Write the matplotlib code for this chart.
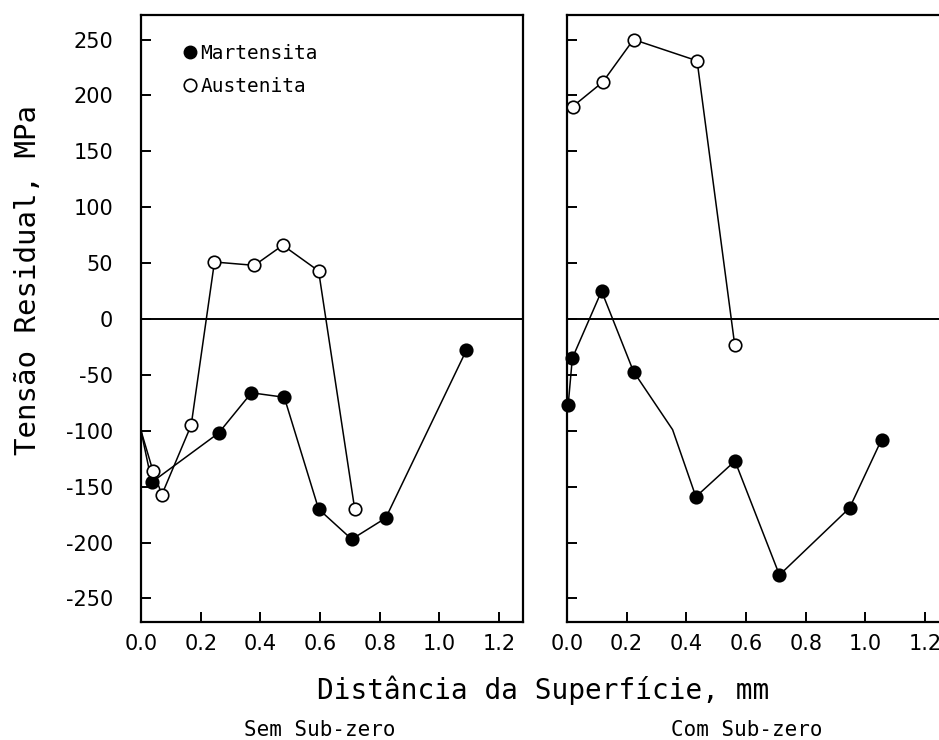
import matplotlib
matplotlib.use("Agg")
import matplotlib.pyplot as plt
from matplotlib.lines import Line2D


# -----------------------------
# Residual stress profiles (MPa) vs depth (mm)
# -----------------------------
# Sem sub-zero
SEM_MART_X = [0.0, 0.036, 0.26, 0.37, 0.48, 0.595, 0.706, 0.82, 1.09]
SEM_MART_Y = [-100, -146, -102, -66, -70, -170, -197, -178, -28]
SEM_AUST_X = [0.0, 0.04, 0.07, 0.168, 0.246, 0.38, 0.475, 0.595, 0.716]
SEM_AUST_Y = [-100, -136, -157, -95, 51, 48, 66, 43, -170]

# Com sub-zero
COM_MART_X = [0.004, 0.018, 0.116, 0.223, 0.354, 0.432, 0.563, 0.712, 0.947, 1.054]
COM_MART_Y = [-77, -35, 25, -47, -99, -159, -127, -229, -169, -108]
COM_AUST_X = [0.019, 0.12, 0.223, 0.436, 0.562]
COM_AUST_Y = [190, 212, 250, 231, -23]

# which points carry a symbol (the others are plain line vertices)
SEM_MART_MARKED = [1, 2, 3, 4, 5, 6, 7, 8]
SEM_AUST_MARKED = [1, 2, 3, 4, 5, 6, 7, 8]
COM_MART_MARKED = [0, 1, 2, 3, 5, 6, 7, 8, 9]
COM_AUST_MARKED = [0, 1, 2, 3, 4]

X_TICKS = [0.0, 0.2, 0.4, 0.6, 0.8, 1.0, 1.2]
X_TICK_LABELS = ["0.0", "0.2", "0.4", "0.6", "0.8", "1.0", "1.2"]
Y_TICKS = [250, 200, 150, 100, 50, 0, -50, -100, -150, -200, -250]

LEGEND_LABELS = ["Martensita", "Austenita"]
PANEL_TITLES = ["Sem Sub-zero", "Com Sub-zero"]

MONO = "DejaVu Sans Mono"
XLIM = (0.0, 1.28)
YLIM = (-271, 272)


def style_axes(ax, show_labels):
    ax.set_xlim(*XLIM)
    ax.set_ylim(*YLIM)
    ax.set_xticks(X_TICKS)
    ax.set_yticks(Y_TICKS)
    ax.axhline(0, color="black", lw=1.4, zorder=1)
    for sp in ax.spines.values():
        sp.set_linewidth(1.6)
    ax.tick_params(axis="both", direction="in", length=7, width=1.4)
    ax.tick_params(axis="x", pad=9)
    ax.tick_params(axis="y", pad=20)
    ax.set_xticklabels(X_TICK_LABELS, fontsize=15)
    if show_labels:
        ax.set_yticklabels([str(v) for v in Y_TICKS], fontsize=15)
    else:
        ax.set_yticklabels([])


def draw_series(ax, x, y, marked, filled):
    face = "black" if filled else "white"
    ax.plot(x, y, color="black", lw=1.1, marker="o", markersize=9,
            markerfacecolor=face, markeredgecolor="black", markeredgewidth=1.2,
            markevery=marked, zorder=3, clip_on=False)


def main():
    fig = plt.figure(figsize=(9.39, 7.40), dpi=100)

    ax1 = fig.add_axes([0.1502, 0.1595, 0.4068, 0.8203])
    ax2 = fig.add_axes([0.6038, 0.1595, 0.4068, 0.8203])

    style_axes(ax1, True)
    style_axes(ax2, False)

    draw_series(ax1, SEM_MART_X, SEM_MART_Y, SEM_MART_MARKED, True)
    draw_series(ax1, SEM_AUST_X, SEM_AUST_Y, SEM_AUST_MARKED, False)
    draw_series(ax2, COM_MART_X, COM_MART_Y, COM_MART_MARKED, True)
    draw_series(ax2, COM_AUST_X, COM_AUST_Y, COM_AUST_MARKED, False)

    handles = [
        Line2D([], [], ls="none", marker="o", markersize=9,
               markerfacecolor="black", markeredgecolor="black"),
        Line2D([], [], ls="none", marker="o", markersize=9,
               markerfacecolor="white", markeredgecolor="black",
               markeredgewidth=1.2),
    ]
    ax1.legend(handles, LEGEND_LABELS, loc="upper left",
               bbox_to_anchor=(0.107, 0.952), frameon=False,
               handlelength=0.8, handletextpad=0.15, borderpad=0,
               borderaxespad=0, labelspacing=0.7,
               prop={"family": MONO, "size": 14})

    fig.text(0.030, (740 - 280) / 740, "Tensão Residual, MPa", rotation=90,
             ha="center", va="center", fontsize=21, family=MONO)
    fig.text(543 / 939, (740 - 690) / 740, "Distância da Superfície, mm",
             ha="center", va="center", fontsize=20, family=MONO)
    fig.text(320 / 939, (740 - 730) / 740, PANEL_TITLES[0],
             ha="center", va="center", fontsize=15, family=MONO)
    fig.text(747 / 939, (740 - 730) / 740, PANEL_TITLES[1],
             ha="center", va="center", fontsize=15, family=MONO)

    fig.savefig("out.png", dpi=100)
    plt.close(fig)


if __name__ == "__main__":
    main()
